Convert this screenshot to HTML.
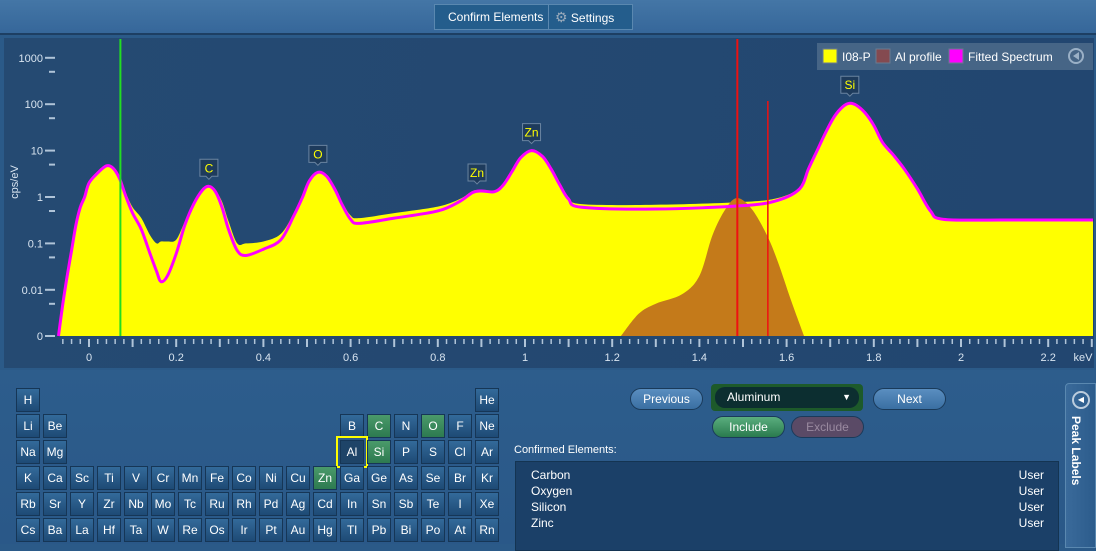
<!DOCTYPE html>
<html><head><meta charset="utf-8"><style>
*{box-sizing:border-box;margin:0;padding:0}
body{width:1096px;height:544px;overflow:hidden;background:#2b5a88;font-family:"Liberation Sans",sans-serif;position:relative;color:#fff}
#top{position:absolute;left:0;top:0;width:1096px;height:35px;background:linear-gradient(#4476a6,#36679a);border-bottom:2px solid #1d3f63}
.tb{position:absolute;top:4px;height:26px;background:#245d8c;border:1px solid #5a88b0;font-size:12px;line-height:24px;padding:0 10px;color:#fff;white-space:nowrap}
#plot{position:absolute;left:4px;top:38px;width:1090px;height:330px;background:linear-gradient(100deg,#254a72,#224670);}
#lower{position:absolute;left:0;top:370px;width:1096px;height:174px;background:linear-gradient(#2d5d8c,#2a5888)}
.cell{position:absolute;width:24px;height:24px;background:linear-gradient(#336a9a,#1e4a75);border:1px solid #163656;font-size:12px;text-align:center;line-height:22px;color:#fff}
.cell.g{background:linear-gradient(#4a9a6a,#2d7a50)}
.pill{position:absolute;height:22px;border-radius:11px;font-size:12px;text-align:center;line-height:20px;border:1px solid #1a3a5a}
</style></head><body>
<div id="top">
 <div class="tb" style="left:434px;width:115px;padding:0 0 0 13px">Confirm Elements</div>
 <div class="tb" style="left:548px;width:85px;padding-left:6px"><span style="color:#9ab;font-size:14px">⚙</span> Settings</div>
</div>
<div id="plot"></div>
<svg id="chart" width="1096" height="370" style="position:absolute;left:0;top:0"></svg>
<div id="lower"></div>
<div id="pt"></div>
<div class="pill" style="left:630px;top:388px;width:73px;background:linear-gradient(#5a8ec0,#3a6fa2)">Previous</div>
<div style="position:absolute;left:711px;top:384px;width:152px;height:27px;background:#1d5a2a;border-radius:4px"><div style="position:absolute;left:4px;top:3px;width:144px;height:21px;background:#0c2e30;border-radius:10px;font-size:12px;line-height:21px;padding-left:12px">Aluminum<span style="position:absolute;right:8px;font-size:9px">▼</span></div></div>
<div class="pill" style="left:873px;top:388px;width:73px;background:linear-gradient(#5a8ec0,#3a6fa2)">Next</div>
<div class="pill" style="left:712px;top:416px;width:73px;background:linear-gradient(#5aae7e,#2a7a4e)">Include</div>
<div class="pill" style="left:791px;top:416px;width:73px;background:#5a4a66;color:#9a8aa0">Exclude</div>
<div style="position:absolute;left:514px;top:444px;font-size:11px">Confirmed Elements:</div>
<div style="position:absolute;left:515px;top:461px;width:544px;height:90px;background:#1b4068;border:1px solid #143452;font-size:12px;line-height:16px;padding:5px 0 0 15px">
 <div>Carbon<span style="position:absolute;right:14px">User</span></div>
 <div>Oxygen<span style="position:absolute;right:14px">User</span></div>
 <div>Silicon<span style="position:absolute;right:14px">User</span></div>
 <div>Zinc<span style="position:absolute;right:14px">User</span></div>
</div>
<div style="position:absolute;left:1065px;top:383px;width:31px;height:165px;background:linear-gradient(90deg,#3a6a9a,#2c5c8c);border:1px solid #5a88b0;border-radius:4px 0 0 0">
 <div style="position:absolute;left:6px;top:7px;width:18px;height:18px;border:2px solid #bcd;border-radius:50%;font-size:8px;text-align:center;line-height:14px">◀</div>
 <div style="position:absolute;left:3px;top:32px;writing-mode:vertical-rl;font-size:12px;font-weight:bold">Peak Labels</div>
</div>
<script>
const energies=[-0.07,-0.06,-0.05,-0.04,-0.03,-0.02,-0.01,0,0.02,0.04,0.055,0.07,0.085,0.1,0.12,0.14,0.155,0.165,0.18,0.2,0.22,0.24,0.26,0.275,0.29,0.305,0.32,0.34,0.36,0.4,0.44,0.47,0.49,0.505,0.525,0.545,0.565,0.58,0.6,0.62,0.7,0.8,0.85,0.88,0.9,0.93,0.95,0.97,0.99,1.015,1.04,1.06,1.08,1.1,1.13,1.3,1.5,1.58,1.63,1.65,1.67,1.69,1.71,1.73,1.745,1.76,1.78,1.8,1.82,1.845,1.87,1.9,1.93,1.96,2.1,2.31];
const fitted=[0.001,0.005,0.02,0.07,0.25,0.6,1.0,2.0,3.3,4.7,4.2,2.5,1.0,0.45,0.2,0.06,0.025,0.015,0.02,0.06,0.25,0.7,1.4,1.7,1.3,0.6,0.2,0.07,0.055,0.075,0.12,0.4,1.0,2.2,3.4,2.8,1.4,0.7,0.33,0.27,0.35,0.5,0.8,1.25,1.35,1.3,1.8,3.5,7,10,7.5,4,1.8,0.9,0.6,0.55,0.65,0.85,1.5,4,10,25,55,90,105,95,65,35,15,8,4,1.5,0.5,0.33,0.32,0.32];
const measured=[0.001,0.006,0.025,0.08,0.28,0.65,1.05,2.1,3.4,4.8,4.3,2.7,1.2,0.6,0.35,0.15,0.1,0.11,0.11,0.12,0.3,0.75,1.45,1.75,1.4,0.8,0.3,0.1,0.1,0.11,0.16,0.45,1.05,2.3,3.5,2.9,1.5,0.8,0.4,0.35,0.45,0.62,0.9,1.35,1.4,1.35,1.9,3.6,7.2,10.5,7.8,4.2,1.9,1.0,0.7,0.68,0.78,0.95,1.6,4.2,10.5,26,57,93,108,98,67,36,15.5,8.2,4.1,1.5,0.5,0.32,0.31,0.31];
const alEnergies=[1.22,1.26,1.3,1.36,1.4,1.43,1.46,1.487,1.52,1.555,1.58,1.61,1.64];
const alValues=[0.001,0.003,0.005,0.008,0.02,0.15,0.55,0.95,0.55,0.15,0.04,0.006,0.001];
const yTicks=[1000,100,10,1,0.1,0.01,0.001];
const yTickLabels=["1000","100","10","1","0.1","0.01","0"];
const xTicks=[0,0.2,0.4,0.6,0.8,1,1.2,1.4,1.6,1.8,2,2.2];
const peakLabels=["C","O","Zn","Zn","Si"];
const peakEnergies=[0.275,0.525,0.89,1.015,1.745];
const peakValues=[1.7,3.4,1.35,10,105];
const markerGreen=0.072, markerRed1=1.487, markerRed2=1.557;
const X=e=>89+436*e, Y=v=>Math.min(336,197-46.4*Math.log10(Math.max(v,0.001)));
const svg=document.getElementById('chart');const NS='http://www.w3.org/2000/svg';
function mk(t,a,p){const el=document.createElementNS(NS,t);for(const k in a)el.setAttribute(k,a[k]);(p||svg).appendChild(el);return el;}
function smooth(xs,ys){const n=xs.length;let s='M'+xs[0]+','+ys[0];
 for(let i=1;i<n;i++){const a=Math.max(0,i-2),b=i-1,c=i,d=Math.min(n-1,i+1);
  const c1x=xs[b]+(xs[c]-xs[a])/6,c1y=ys[b]+(ys[c]-ys[a])/6,c2x=xs[c]-(xs[d]-xs[b])/6,c2y=ys[c]-(ys[d]-ys[b])/6;
  s+=' C'+c1x+','+Math.min(336,c1y)+' '+c2x+','+Math.min(336,c2y)+' '+xs[c]+','+ys[c];}
 return s;}
const base=336;
const mx=energies.map(e=>Math.min(1093,X(e))), my=measured.map(Y), fy=fitted.map(Y);
let p=mk('path',{d:smooth(mx,my)+' L'+mx[mx.length-1]+','+base+' L'+mx[0]+','+base+'Z',fill:'#ffff00'});


const ax=alEnergies.map(X), ay=alValues.map(Y);
p=mk('path',{d:smooth(ax,ay)+'Z',fill:'#c47a1a'});


p=mk('path',{d:smooth(mx,fy),fill:'none',stroke:'#ff00ff','stroke-width':3,'stroke-linejoin':'round'});


p=mk('line',{x1:X(markerGreen),x2:X(markerGreen),y1:39,y2:336,stroke:'#22dd22','stroke-width':2});


p=mk('line',{x1:X(markerRed1),x2:X(markerRed1),y1:39,y2:336,stroke:'#ee1111','stroke-width':2});


p=mk('line',{x1:X(markerRed2),x2:X(markerRed2),y1:101,y2:336,stroke:'#ee1111','stroke-width':1.5});


yTicks.forEach((v,i)=>{const y=Y(v);
 p=mk('line',{x1:45,x2:55,y1:y,y2:y,stroke:'#b0c4d8','stroke-width':2});
 
 
 if(i<yTicks.length-1){const ym=y+14;p=mk('line',{x1:49,x2:55,y1:ym,y2:ym,stroke:'#b0c4d8','stroke-width':2});
 
 }
 const t=mk('text',{x:43,y:y+4,'text-anchor':'end','font-size':11,fill:'#d8e4f0'});t.textContent=yTickLabels[i];
 
 
});
let t=mk('text',{x:18,y:182,'font-size':11,fill:'#d8e4f0',transform:'rotate(-90 18 182)','text-anchor':'middle'});t.textContent='cps/eV';


for(let k=-4;k<=115;k++){const e=k*0.02,x=X(e);if(x<62||x>1092)continue;const maj=k%5==0;
 p=mk('line',{x1:x,x2:x,y1:339,y2:maj?347:344,stroke:'#b0c4d8','stroke-width':maj?2:1.5});
 
 }
xTicks.forEach(e=>{t=mk('text',{x:X(e),y:361,'text-anchor':'middle','font-size':11,fill:'#d8e4f0'});t.textContent=String(e);
 
 });
t=mk('text',{x:1083,y:361,'text-anchor':'middle','font-size':11,fill:'#d8e4f0'});t.textContent='keV';


peakLabels.forEach((l,i)=>{const x=X(peakEnergies[i]),y=Y(peakValues[i])-6;
 const g=mk('g',{});
 
 
 mk('path',{d:`M${x-9},${y-21} h18 v17 h-6 l-3,3 l-3,-3 h-6 Z`,fill:'#1e3b5c',stroke:'#6a84a0','stroke-width':1},g);
 const tt=mk('text',{x:x,y:y-8,'text-anchor':'middle','font-size':12,fill:'#ffff00'},g);tt.textContent=l;});
const lg=mk('g',{});


mk('rect',{x:817,y:43,width:276,height:27,fill:'#4a6888',opacity:0.9},lg);
const items=[['I08-P','#ffff00',823],['Al profile','#844a50',876],['Fitted Spectrum','#ff00ff',949]];
items.forEach(([n,c,x])=>{mk('rect',{x:x,y:49,width:14,height:14,fill:c,stroke:'#6a7a90'},lg);
 const tt=mk('text',{x:x+19,y:61,'font-size':12,fill:'#fff'},lg);tt.textContent=n;
 
 });
mk('circle',{cx:1076,cy:56,r:7,fill:'none',stroke:'#9ab0c6','stroke-width':2},lg);
mk('path',{d:'M1079,52 L1073,56 L1079,60Z',fill:'#9ab0c6'},lg);
const table=[[["H",0],["He",17]],[["Li",0],["Be",1],["B",12],["C",13],["N",14],["O",15],["F",16],["Ne",17]],
[["Na",0],["Mg",1],["Al",12],["Si",13],["P",14],["S",15],["Cl",16],["Ar",17]],
"K Ca Sc Ti V Cr Mn Fe Co Ni Cu Zn Ga Ge As Se Br Kr".split(' ').map((s,i)=>[s,i]),
"Rb Sr Y Zr Nb Mo Tc Ru Rh Pd Ag Cd In Sn Sb Te I Xe".split(' ').map((s,i)=>[s,i]),
"Cs Ba La Hf Ta W Re Os Ir Pt Au Hg Tl Pb Bi Po At Rn".split(' ').map((s,i)=>[s,i])];
const green=["C","O","Si","Zn"];const pt=document.getElementById('pt');
table.forEach((r,ri)=>r.forEach(([s,ci])=>{const c=document.createElement('div');c.className='cell'+(green.includes(s)?' g':'');
 c.style.left=(16+27*ci)+'px';c.style.top=(388+26*ri)+'px';c.textContent=s;
 if(s==='Al'){c.style.outline='2px solid #ffff00';c.style.outlineOffset='2px';c.style.background='#1e4468';}
 
 
 pt.appendChild(c);}));
</script>
</body></html>
